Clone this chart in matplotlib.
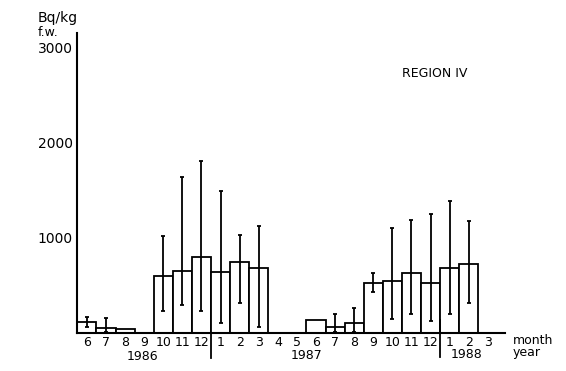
import matplotlib
matplotlib.use("Agg")
import matplotlib.pyplot as plt
import numpy as np

# Data ------------------------------------------------------------
months = ["6", "7", "8", "9", "10", "11", "12",
          "1", "2", "3", "4", "5", "6", "7", "8", "9", "10", "11", "12",
          "1", "2", "3"]
values = [115, 52, 42, 0, 598, 651, 797,
          640, 745, 682, 0, 0, 136, 63, 105, 525, 546, 630, 525,
          682, 724, 0]
err_low = [63, 10, None, None, 231, 294, 231,
           105, 315, 63, None, None, None, 10, 10, 430, 147, 199, 126,
           199, 315, None]
err_high = [168, 157, None, None, 1018, 1637, 1805,
            1490, 1028, 1123, None, None, None, 199, 262, 630, 1102, 1186, 1249,
            1385, 1175, None]
years = ["1986", "1987", "1988"]
y_ticks = [1000, 2000, 3000]

# Figure ----------------------------------------------------------
W, H = 566, 371
fig = plt.figure(figsize=(W / 100, H / 100), dpi=100)
ax = fig.add_axes([77 / W, (H - 333) / H, (505 - 77) / W, 300 / H])

x = np.arange(len(months))
ax.bar(x, values, width=1.0, color="white", edgecolor="black", linewidth=1.3, zorder=2)

for xi, v, lo, hi in zip(x, values, err_low, err_high):
    if lo is None:
        continue
    ax.errorbar([xi], [v], yerr=[[v - lo], [hi - v]], fmt="none", ecolor="black",
                elinewidth=1.3, capsize=1.5, capthick=1.3, zorder=3)

ax.set_xlim(-0.52, 21.9)
ax.set_ylim(0, 3150)

for s in ["top", "right"]:
    ax.spines[s].set_visible(False)
for s in ["left", "bottom"]:
    ax.spines[s].set_linewidth(1.5)
    ax.spines[s].set_color("black")

ax.set_xticks(x)
ax.set_xticklabels(months, fontsize=9)
ax.tick_params(axis="x", length=0, pad=2)
ax.set_yticks(y_ticks)
ax.set_yticklabels([str(t) for t in y_ticks], fontsize=10)
ax.tick_params(axis="y", length=0, pad=3)

# year separators
ax.plot([6.5, 6.5], [0, -262], color="black", lw=1.3, clip_on=False)
ax.plot([18.5, 18.5], [140, -250], color="black", lw=1.3, clip_on=False)

# year labels
ax.text(2.9, -252, years[0], fontsize=9, ha="center", va="center")
ax.text(11.5, -240, years[1], fontsize=9, ha="center", va="center")
ax.text(19.9, -228, years[2], fontsize=9, ha="center", va="center")
ax.text(22.3, -75, "month", fontsize=9, ha="left", va="center", clip_on=False)
ax.text(22.3, -200, "year", fontsize=9, ha="left", va="center", clip_on=False)

# y-axis unit
fig.text(38 / W, 1 - 18 / H, "Bq/kg", fontsize=10, ha="left", va="center")
fig.text(38 / W, 1 - 32 / H, "f.w.", fontsize=9, ha="left", va="center")

ax.text(16.5, 2720, "REGION IV", fontsize=9, ha="left", va="center")

fig.savefig("out.png", dpi=100)
